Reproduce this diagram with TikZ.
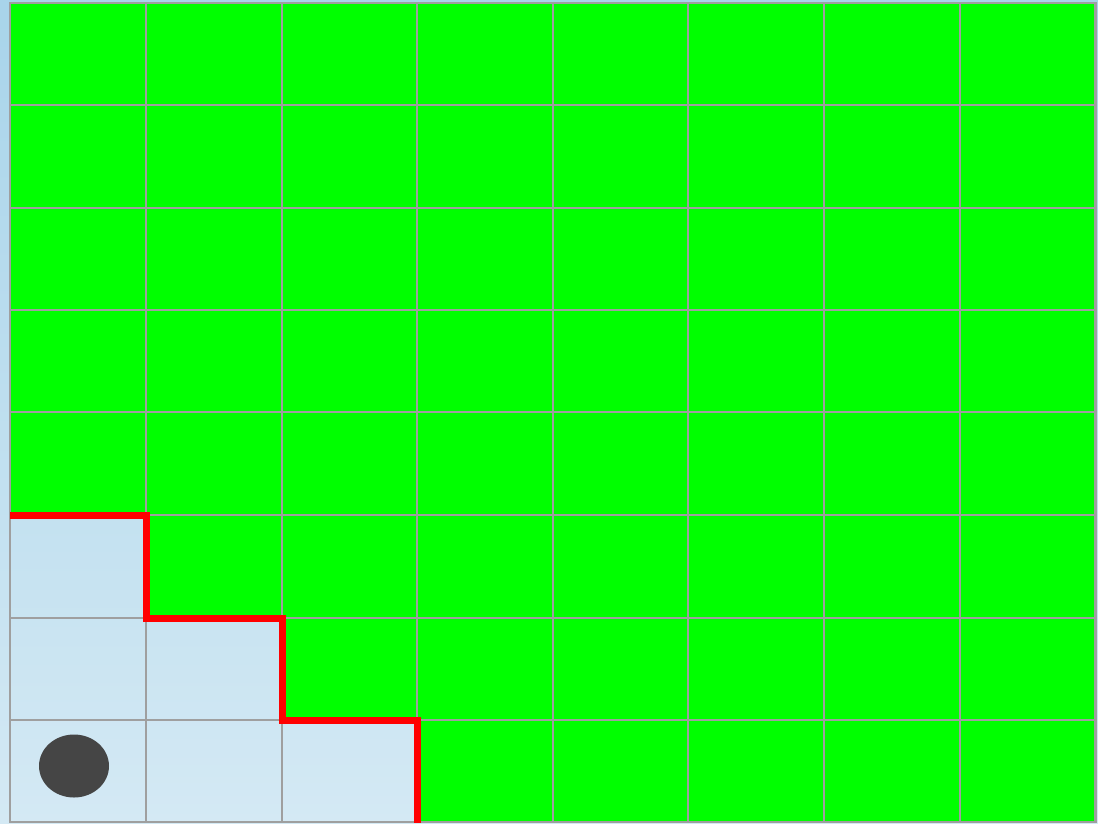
\documentclass[tikz,border=0pt]{standalone}
\usetikzlibrary{shapes.geometric}
\begin{document}
\begin{tikzpicture}[x=1pt,y=-1pt,
  gridline/.style={draw=gray!75, line width=2pt},
  wall/.style={draw=red, line width=7pt, line cap=butt, line join=miter},
  ball/.style={ellipse, fill=black!73, minimum width=70pt, minimum height=63pt, inner sep=0pt}]
\definecolor{bgtop}{HTML}{A8D4EA}
\definecolor{bgbot}{HTML}{D4E9F4}
\definecolor{grass}{HTML}{00FF00}
\useasboundingbox (0,0) rectangle (1098,823);
\shade[top color=bgtop, bottom color=bgbot] (0,0) rectangle (1098,823);
% green region
\fill[grass] (10,3) -- (1095,3) -- (1095,822) -- (417,822) -- (417,720) -- (282,720) -- (282,618) -- (146,618) -- (146,515) -- (10,515) -- cycle;
% grid
\foreach \x in {10,146,282,417,553,688,824,960,1095}
  \draw[gridline] (\x,3) -- (\x,822);
\foreach \y in {3,105,208,310,412,515,618,720,822}
  \draw[gridline] (10,\y) -- (1095,\y);
\draw[draw=gray!75, line width=2.5pt] (10,3) rectangle (1096,822);
% wall
\draw[wall] (10,515) -- (146,515) -- (146,618) -- (282,618) -- (282,720) -- (417,720) -- (417,823);
% ball
\node[ball] (agent) at (74,766) {};
\end{tikzpicture}
\end{document}
